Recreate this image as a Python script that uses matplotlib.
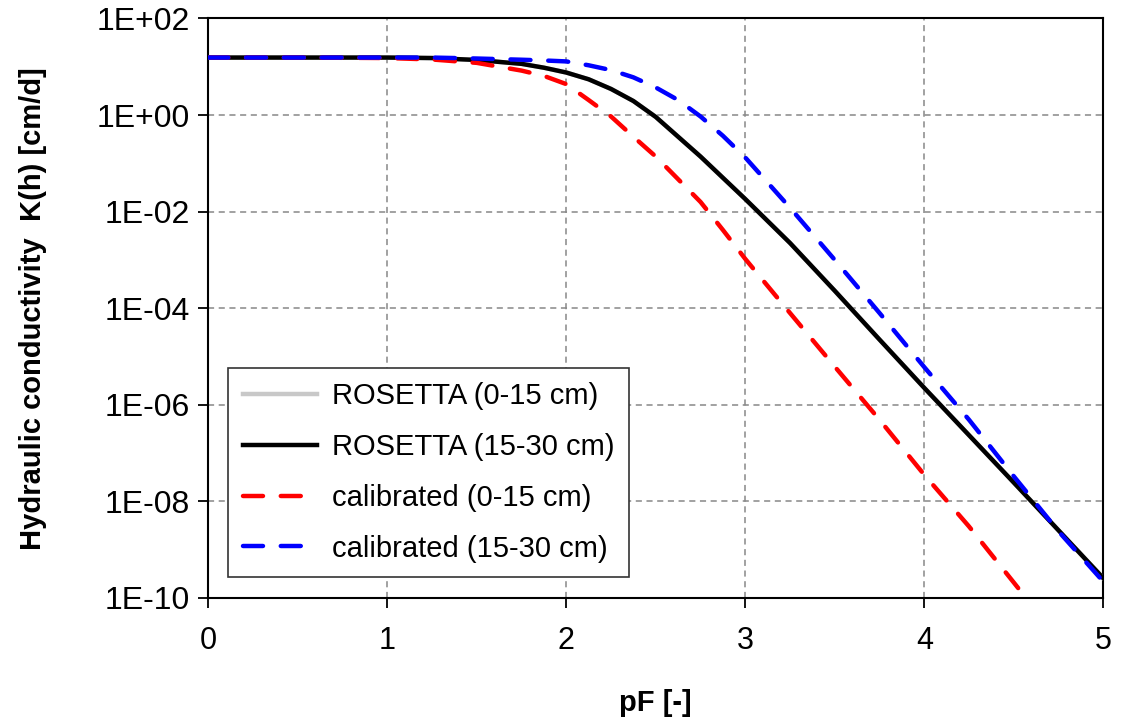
import matplotlib.pyplot as plt
import numpy as np
from matplotlib.ticker import FixedLocator, FuncFormatter

plt.rcParams['font.family'] = ['Liberation Sans', 'DejaVu Sans']

# pF values and log10 K(h) [cm/d]
pF = [0, 0.5, 1.0, 1.25, 1.5, 1.75, 1.875, 2.0, 2.125, 2.25, 2.375, 2.5, 2.625, 2.75, 2.875,
      3.0, 3.25, 3.5, 3.75, 4.0, 4.25, 4.5, 4.75, 5.0]
logK_rosetta_0_15 = [1.19, 1.19, 1.19, 1.18, 1.14, 1.06, 0.98, 0.88, 0.74, 0.54, 0.29, -0.04, -0.45, -0.86, -1.30,
                     -1.74, -2.65, -3.64, -4.65, -5.65, -6.63, -7.61, -8.60, -9.59]
logK_rosetta_15_30 = [1.19, 1.19, 1.19, 1.18, 1.14, 1.06, 0.98, 0.88, 0.74, 0.54, 0.29, -0.04, -0.45, -0.86, -1.30,
                      -1.74, -2.65, -3.64, -4.65, -5.65, -6.63, -7.61, -8.60, -9.59]
logK_calib_15_30 = [1.19, 1.19, 1.19, 1.19, 1.17, 1.145, 1.13, 1.11, 1.03, 0.93, 0.78, 0.57, 0.31, -0.03, -0.43,
                    -0.88, -1.92, -3.00, -4.10, -5.22, -6.31, -7.48, -8.62, -9.66]

pF_calib_0_15 = [0, 0.5, 1.0, 1.25, 1.5, 1.75, 1.875, 2.0, 2.125, 2.25, 2.375, 2.5, 2.625, 2.75, 2.875,
                 3.0, 3.25, 3.5, 3.75, 4.0, 4.25, 4.5, 4.53]
logK_calib_0_15 = [1.19, 1.19, 1.18, 1.15, 1.08, 0.92, 0.81, 0.64, 0.31, -0.03, -0.45, -0.86, -1.33, -1.80, -2.38,
                   -2.98, -4.10, -5.21, -6.31, -7.45, -8.52, -9.68, -9.82]

y_ticks = [1e2, 1e0, 1e-2, 1e-4, 1e-6, 1e-8, 1e-10]
x_ticks = [0, 1, 2, 3, 4, 5]


def to_k(vals):
    return 10.0 ** np.array(vals)


fig = plt.figure(figsize=(11.21, 7.23), dpi=100)
ax = fig.add_axes([0.1858, 0.1729, 0.7984, 0.8016])

dash = (0, (4.5, 4))
ax.plot(pF, to_k(logK_rosetta_0_15), color='#c8c8c8', lw=3.2, label='ROSETTA (0-15 cm)', zorder=3)
ax.plot(pF, to_k(logK_rosetta_15_30), color='black', lw=3.2, label='ROSETTA (15-30 cm)', zorder=4)
ax.plot(pF_calib_0_15, to_k(logK_calib_0_15), color='#ff0000', lw=3.2, ls=dash,
        dash_capstyle='round', label='calibrated (0-15 cm)', zorder=5)
ax.plot(pF, to_k(logK_calib_15_30), color='#0000ff', lw=3.2, ls=dash,
        dash_capstyle='round', label='calibrated (15-30 cm)', zorder=6)

ax.set_yscale('log')
ax.set_xlim(0, 5)
ax.set_ylim(1e-10, 1e2)
ax.yaxis.set_major_locator(FixedLocator(y_ticks))
ax.yaxis.set_minor_locator(FixedLocator([]))
ax.yaxis.set_major_formatter(FuncFormatter(lambda v, p: '1E%+03d' % int(round(np.log10(v)))))
ax.xaxis.set_major_locator(FixedLocator(x_ticks))

ax.grid(True, color='#888888', ls=(0, (4, 3)), lw=1.1)
ax.set_axisbelow(True)
for s in ax.spines.values():
    s.set_color('black')
    s.set_linewidth(1.5)
ax.tick_params(axis='both', direction='out', length=7, width=1.3, labelsize=22, colors='black')
ax.tick_params(axis='y', labelsize=23, pad=6)
ax.tick_params(axis='x', pad=13)

ax.set_xlabel('pF [-]', fontsize=21, fontweight='bold', labelpad=24)
ax.set_ylabel('Hydraulic conductivity  K(h) [cm/d]', fontsize=21, fontweight='bold', labelpad=36)

leg = ax.legend(loc='lower left', bbox_to_anchor=(0.022, 0.036), borderaxespad=0,
                fontsize=21, handlelength=2.55, labelspacing=0.78, handletextpad=0.5,
                borderpad=0.5, fancybox=False, framealpha=1, edgecolor='#333333')
leg.get_frame().set_linewidth(1.2)

fig.savefig('out.png', dpi=100)
